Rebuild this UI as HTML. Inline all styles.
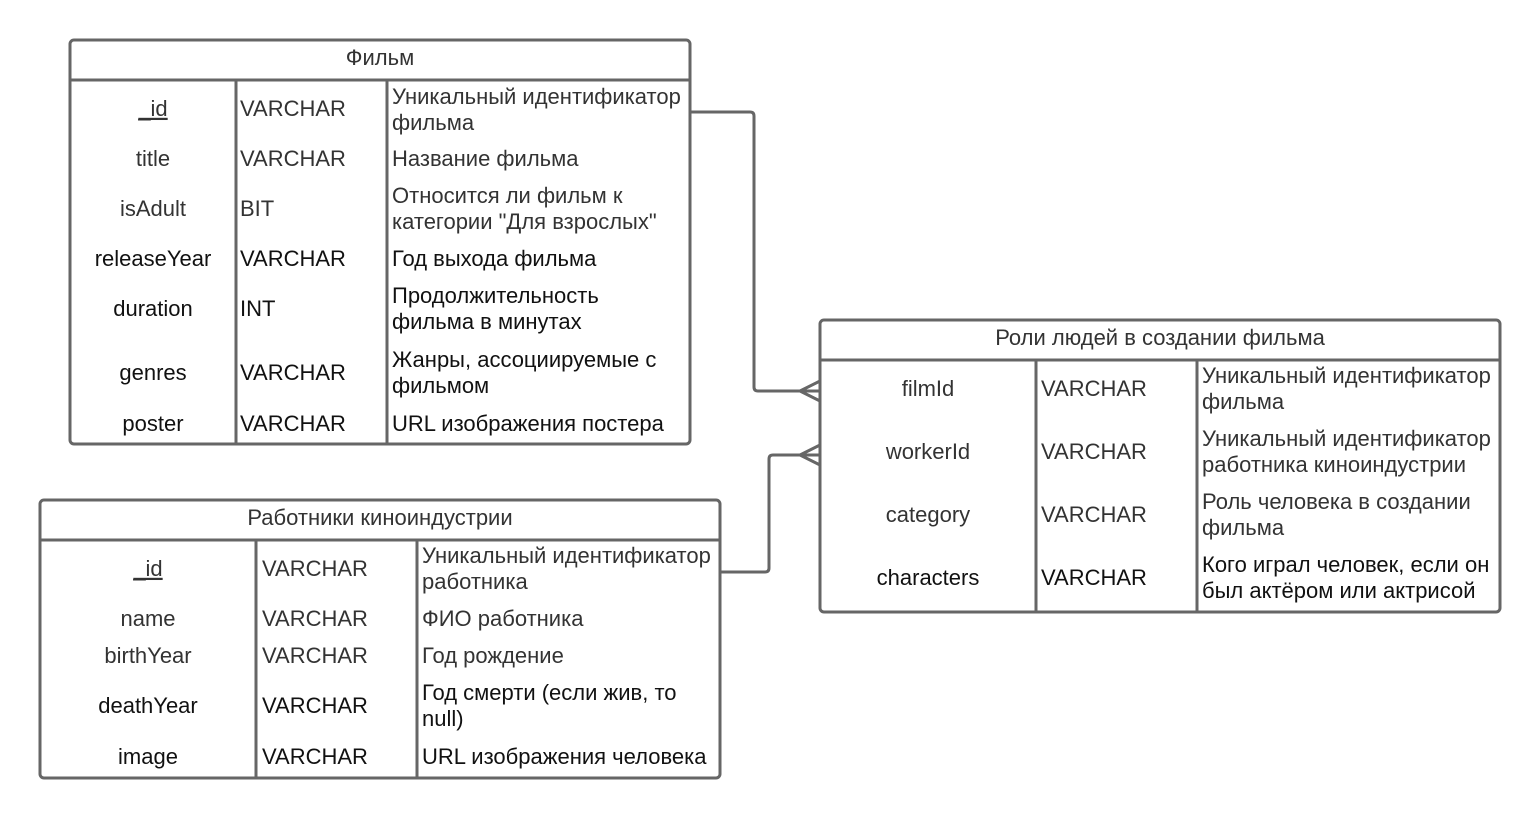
<!DOCTYPE html>
<html><head><meta charset="utf-8"><style>
html,body{margin:0;padding:0;background:#fff;}
svg text{font-family:"Liberation Sans","DejaVu Sans",sans-serif;font-size:22px;fill:#333;dominant-baseline:middle;}
svg text.h{font-size:22px;}
.b{fill:#111;}
</style></head><body>
<svg width="1540" height="818" viewBox="0 0 1540 818" xmlns="http://www.w3.org/2000/svg">
<g fill="none" stroke="#666" stroke-width="3">
<rect x="70" y="40" width="620" height="404" rx="4"/>
<line x1="70" y1="80" x2="690" y2="80"/>
<line x1="236" y1="80" x2="236" y2="444"/>
<line x1="387" y1="80" x2="387" y2="444"/>
<rect x="40" y="500" width="680" height="278" rx="4"/>
<line x1="40" y1="540" x2="720" y2="540"/>
<line x1="256" y1="540" x2="256" y2="778"/>
<line x1="417" y1="540" x2="417" y2="778"/>
<rect x="820" y="320" width="680" height="292" rx="4"/>
<line x1="820" y1="360" x2="1500" y2="360"/>
<line x1="1036" y1="360" x2="1036" y2="612"/>
<line x1="1197" y1="360" x2="1197" y2="612"/>
<path d="M690 112 H750 Q754 112 754 116 V387 Q754 391 758 391 H820"/>
<path d="M800 391 L820 381 M800 391 L820 401"/>
<path d="M720 572 H765 Q769 572 769 568 V459 Q769 455 773 455 H820"/>
<path d="M800 455 L820 445 M800 455 L820 465"/>
</g>
<g transform="translate(0,2)">
<text class="h" x="380" y="57" text-anchor="middle">Фильм</text>
<text x="153" y="108" text-anchor="middle" text-decoration="underline">_id</text>
<text x="240" y="108">VARCHAR</text>
<text x="392" y="96">Уникальный идентификатор</text>
<text x="392" y="122">фильма</text>
<text x="153" y="158" text-anchor="middle">title</text>
<text x="240" y="158">VARCHAR</text>
<text x="392" y="158">Название фильма</text>
<text x="153" y="208" text-anchor="middle">isAdult</text>
<text x="240" y="208">BIT</text>
<text x="392" y="195">Относится ли фильм к</text>
<text x="392" y="221">категории "Для взрослых"</text>
<text class="b" x="153" y="258" text-anchor="middle">releaseYear</text>
<text class="b" x="240" y="258">VARCHAR</text>
<text class="b" x="392" y="258">Год выхода фильма</text>
<text class="b" x="153" y="308" text-anchor="middle">duration</text>
<text class="b" x="240" y="308">INT</text>
<text class="b" x="392" y="295">Продолжительность</text>
<text class="b" x="392" y="321">фильма в минутах</text>
<text class="b" x="153" y="372" text-anchor="middle">genres</text>
<text class="b" x="240" y="372">VARCHAR</text>
<text class="b" x="392" y="359">Жанры, ассоциируемые с</text>
<text class="b" x="392" y="385">фильмом</text>
<text class="b" x="153" y="423" text-anchor="middle">poster</text>
<text class="b" x="240" y="423">VARCHAR</text>
<text class="b" x="392" y="423">URL изображения постера</text>

<text class="h" x="380" y="517" text-anchor="middle">Работники киноиндустрии</text>
<text x="148" y="568" text-anchor="middle" text-decoration="underline">_id</text>
<text x="262" y="568">VARCHAR</text>
<text x="422" y="555">Уникальный идентификатор</text>
<text x="422" y="581">работника</text>
<text x="148" y="618" text-anchor="middle">name</text>
<text x="262" y="618">VARCHAR</text>
<text x="422" y="618">ФИО работника</text>
<text x="148" y="655" text-anchor="middle">birthYear</text>
<text x="262" y="655">VARCHAR</text>
<text x="422" y="655">Год рождение</text>
<text class="b" x="148" y="705" text-anchor="middle">deathYear</text>
<text class="b" x="262" y="705">VARCHAR</text>
<text class="b" x="422" y="692">Год смерти (если жив, то</text>
<text class="b" x="422" y="718">null)</text>
<text class="b" x="148" y="756" text-anchor="middle">image</text>
<text class="b" x="262" y="756">VARCHAR</text>
<text class="b" x="422" y="756">URL изображения человека</text>

<text class="h" x="1160" y="337" text-anchor="middle">Роли людей в создании фильма</text>
<text x="928" y="388" text-anchor="middle">filmId</text>
<text x="1041" y="388">VARCHAR</text>
<text x="1202" y="375">Уникальный идентификатор</text>
<text x="1202" y="401">фильма</text>
<text x="928" y="451" text-anchor="middle">workerId</text>
<text x="1041" y="451">VARCHAR</text>
<text x="1202" y="438">Уникальный идентификатор</text>
<text x="1202" y="464">работника киноиндустрии</text>
<text x="928" y="514" text-anchor="middle">category</text>
<text x="1041" y="514">VARCHAR</text>
<text x="1202" y="501">Роль человека в создании</text>
<text x="1202" y="527">фильма</text>
<text class="b" x="928" y="577" text-anchor="middle">characters</text>
<text class="b" x="1041" y="577">VARCHAR</text>
<text class="b" x="1202" y="564">Кого играл человек, если он</text>
<text class="b" x="1202" y="590">был актёром или актрисой</text>
</g>
</svg>
</body></html>
